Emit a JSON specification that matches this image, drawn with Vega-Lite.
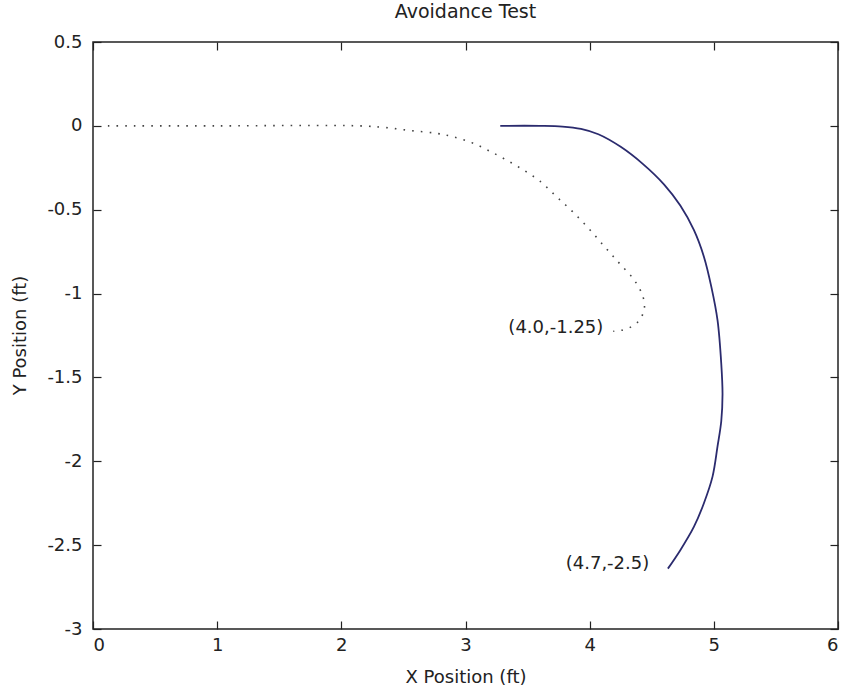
{
  "$schema": "https://vega.github.io/schema/vega-lite/v6.json",
  "width": 745,
  "height": 587,
  "autosize": {"type": "none"},
  "padding": {"left": 93, "top": 42, "right": 6, "bottom": 65},
  "background": "white",
  "title": {"text": "Avoidance Test", "font": "DejaVu Sans", "fontSize": 19, "fontWeight": "normal", "color": "#222", "anchor": "middle", "offset": 11},
  "config": {
    "view": {"stroke": "#222", "strokeWidth": 1.5},
    "axis": {"grid": false, "domain": false, "tickColor": "#222", "tickWidth": 1.2, "tickSize": -8, "labelFont": "DejaVu Sans", "labelFontSize": 18, "labelColor": "#222", "titleFont": "DejaVu Sans", "titleFontSize": 18, "titleFontWeight": "normal", "titleColor": "#222"}
  },
  "datasets": {
    "planned": [
      {"i": 0, "x": 0.12, "y": 0},
      {"i": 1, "x": 1.0, "y": 0},
      {"i": 2, "x": 2.15, "y": 0},
      {"i": 3, "x": 2.35, "y": -0.01},
      {"i": 4, "x": 2.56, "y": -0.028},
      {"i": 5, "x": 2.77, "y": -0.045},
      {"i": 6, "x": 2.9, "y": -0.065},
      {"i": 7, "x": 3.05, "y": -0.1},
      {"i": 8, "x": 3.18, "y": -0.145},
      {"i": 9, "x": 3.32, "y": -0.2},
      {"i": 10, "x": 3.46, "y": -0.26},
      {"i": 11, "x": 3.6, "y": -0.33},
      {"i": 12, "x": 3.73, "y": -0.42},
      {"i": 13, "x": 3.86, "y": -0.51},
      {"i": 14, "x": 3.99, "y": -0.61},
      {"i": 15, "x": 4.12, "y": -0.72},
      {"i": 16, "x": 4.24, "y": -0.82},
      {"i": 17, "x": 4.36, "y": -0.92},
      {"i": 18, "x": 4.43, "y": -1.02},
      {"i": 19, "x": 4.44, "y": -1.09},
      {"i": 20, "x": 4.4, "y": -1.16},
      {"i": 21, "x": 4.33, "y": -1.2},
      {"i": 22, "x": 4.25, "y": -1.22},
      {"i": 23, "x": 4.19, "y": -1.225}
    ],
    "actual": [
      {"i": 0, "x": 3.28, "y": 0},
      {"i": 1, "x": 3.6, "y": 0},
      {"i": 2, "x": 3.78, "y": -0.004},
      {"i": 3, "x": 3.93, "y": -0.018},
      {"i": 4, "x": 4.07, "y": -0.05},
      {"i": 5, "x": 4.25, "y": -0.125},
      {"i": 6, "x": 4.43, "y": -0.228},
      {"i": 7, "x": 4.6, "y": -0.35},
      {"i": 8, "x": 4.73, "y": -0.475},
      {"i": 9, "x": 4.84, "y": -0.622},
      {"i": 10, "x": 4.92, "y": -0.78},
      {"i": 11, "x": 4.98, "y": -0.96},
      {"i": 12, "x": 5.03, "y": -1.16},
      {"i": 13, "x": 5.06, "y": -1.42},
      {"i": 14, "x": 5.07, "y": -1.6},
      {"i": 15, "x": 5.06, "y": -1.76},
      {"i": 16, "x": 5.03, "y": -1.91},
      {"i": 17, "x": 4.99, "y": -2.09},
      {"i": 18, "x": 4.92, "y": -2.25},
      {"i": 19, "x": 4.84, "y": -2.39},
      {"i": 20, "x": 4.73, "y": -2.53},
      {"i": 21, "x": 4.63, "y": -2.64}
    ],
    "labels": [
      {"x": 4.11, "y": -1.205, "text": "(4.0,-1.25)"},
      {"x": 4.48, "y": -2.615, "text": "(4.7,-2.5)"}
    ]
  },
  "layer": [
    {
      "data": {"name": "planned"},
      "mark": {"type": "line", "color": "#444", "strokeWidth": 1.6, "strokeDash": [1.6, 7.1], "strokeCap": "butt", "interpolate": "catmull-rom"},
      "encoding": {
        "x": {"field": "x", "type": "quantitative", "scale": {"domain": [0, 6], "nice": false, "zero": false},
              "axis": {"orient": "bottom", "values": [0, 1, 2, 3, 4, 5, 6], "labelPadding": 15, "labelExpr": "toString(datum.value)", "title": "X Position (ft)", "titleY": 48, "titleBaseline": "middle"}},
        "y": {"field": "y", "type": "quantitative", "scale": {"domain": [-3, 0.5], "nice": false, "zero": false},
              "axis": {"orient": "left", "values": [-3, -2.5, -2, -1.5, -1, -0.5, 0, 0.5], "labelPadding": 19, "labelExpr": "toString(datum.value)", "title": "Y Position (ft)", "titleX": -73, "titleY": 293, "titleBaseline": "middle", "titleAngle": -90}},
        "order": {"field": "i", "type": "quantitative"}
      }
    },
    {
      "data": {"name": "actual"},
      "mark": {"type": "line", "color": "#2b2b6e", "strokeWidth": 1.8, "interpolate": "catmull-rom"},
      "encoding": {
        "x": {"field": "x", "type": "quantitative", "scale": {"domain": [0, 6], "nice": false, "zero": false}, "axis": null},
        "y": {"field": "y", "type": "quantitative", "scale": {"domain": [-3, 0.5], "nice": false, "zero": false}, "axis": null},
        "order": {"field": "i", "type": "quantitative"}
      }
    },
    {
      "data": {"name": "labels"},
      "mark": {"type": "text", "align": "right", "baseline": "middle", "font": "DejaVu Sans", "fontSize": 18, "color": "#222"},
      "encoding": {
        "x": {"field": "x", "type": "quantitative", "scale": {"domain": [0, 6], "nice": false, "zero": false},
              "axis": {"orient": "top", "values": [0, 1, 2, 3, 4, 5, 6], "labels": false, "title": null}},
        "y": {"field": "y", "type": "quantitative", "scale": {"domain": [-3, 0.5], "nice": false, "zero": false},
              "axis": {"orient": "right", "values": [-3, -2.5, -2, -1.5, -1, -0.5, 0, 0.5], "labels": false, "title": null}},
        "text": {"field": "text", "type": "nominal"}
      }
    }
  ],
  "resolve": {"axis": {"x": "independent", "y": "independent"}}
}
